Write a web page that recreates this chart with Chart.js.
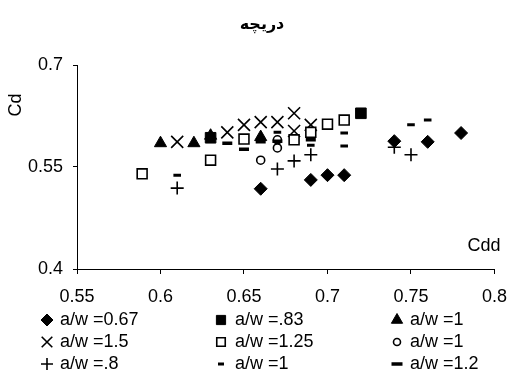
<!DOCTYPE html>
<html><head><meta charset="utf-8">
<script src="https://cdn.jsdelivr.net/npm/chart.js@4/dist/chart.umd.min.js"></script>
<style>html,body{margin:0;padding:0;background:#fff}#wrap{width:519px;height:374px;position:relative}</style>
</head><body><div id="wrap"><canvas id="c" width="519" height="374"></canvas></div>
<script>
const chartTitle = 'دریچه';
const xAxisTitle = 'Cdd';
const yAxisTitle = 'Cd';
const xTicks = [0.55, 0.6, 0.65, 0.7, 0.75, 0.8];
const yTicks = [0.4, 0.55, 0.7];
const seriesLabels = ['a/w =0.67', 'a/w =.83', 'a/w =1', 'a/w =1.5', 'a/w =1.25', 'a/w =1', 'a/w =.8', 'a/w =1', 'a/w =1.2'];

const aw067X = [0.66, 0.69, 0.70, 0.71, 0.74, 0.76, 0.78];
const aw067Y = [0.518, 0.531, 0.538, 0.538, 0.588, 0.587, 0.600];
const aw083X = [0.63, 0.72];
const aw083Y = [0.593, 0.629];
const aw1aX = [0.60, 0.62, 0.63, 0.66];
const aw1aY = [0.585, 0.585, 0.596, 0.594];
const aw15X = [0.61, 0.64, 0.65, 0.66, 0.67, 0.68, 0.68, 0.69];
const aw15Y = [0.587, 0.601, 0.612, 0.616, 0.616, 0.629, 0.603, 0.612];
const aw125X = [0.589, 0.63, 0.65, 0.68, 0.69, 0.70, 0.71];
const aw125Y = [0.54, 0.56, 0.591, 0.59, 0.601, 0.613, 0.619];
const aw1bX = [0.66, 0.67, 0.67];
const aw1bY = [0.56, 0.59, 0.578];
const aw08X = [0.61, 0.67, 0.68, 0.69, 0.74, 0.75];
const aw08Y = [0.519, 0.547, 0.559, 0.568, 0.579, 0.568];
const aw1cX = [0.61, 0.67, 0.69, 0.71, 0.71, 0.75, 0.76];
const aw1cY = [0.538, 0.601, 0.582, 0.60, 0.581, 0.612, 0.619];
const aw12X = [0.64, 0.65, 0.66, 0.67, 0.69, 0.74];
const aw12Y = [0.585, 0.576, 0.587, 0.588, 0.59, 0.588];

const FONT = '"Liberation Sans", Arial, sans-serif';
const FS = 18;

function pts(xs, ys) { return xs.map((x, i) => ({x: x, y: ys[i]})); }

const styles = [
  {pointStyle: 'rectRot', radius: 6.5, bg: '#000', bw: 1, lr: 6},
  {pointStyle: 'rect', radius: 7.5, bg: '#000', bw: 1, lr: 6.5},
  {pointStyle: 'triangle', radius: 7, bg: '#000', bw: 1, lr: 6.5},
  {pointStyle: 'crossRot', radius: 8.5, bg: '#000', bw: 1.6, lr: 7.5},
  {pointStyle: 'rect', radius: 7, bg: '#fff', bw: 1.6, lr: 6},
  {pointStyle: 'circle', radius: 4, bg: '#fff', bw: 1.6, lr: 3.5},
  {pointStyle: 'cross', radius: 6.5, bg: '#000', bw: 1.6, lr: 6},
  {pointStyle: 'line', radius: 3.8, bg: '#000', bw: 3, lr: 3},
  {pointStyle: 'line', radius: 5, bg: '#000', bw: 3.5, lr: 5.5}
];
const seriesData = [
  pts(aw067X, aw067Y), pts(aw083X, aw083Y), pts(aw1aX, aw1aY),
  pts(aw15X, aw15Y), pts(aw125X, aw125Y), pts(aw1bX, aw1bY),
  pts(aw08X, aw08Y), pts(aw1cX, aw1cY), pts(aw12X, aw12Y)
];

const datasets = seriesData.map((d, i) => ({
  label: seriesLabels[i],
  data: d,
  showLine: false,
  pointStyle: styles[i].pointStyle,
  pointRadius: styles[i].radius,
  pointHoverRadius: styles[i].radius,
  pointBackgroundColor: styles[i].bg,
  pointBorderColor: '#000',
  pointBorderWidth: styles[i].bw,
  backgroundColor: styles[i].bg,
  borderColor: '#000',
  order: seriesData.length - i
}));

function drawMarker(ctx, st, x, y) {
  ctx.save();
  ctx.fillStyle = st.bg; ctx.strokeStyle = '#000'; ctx.lineWidth = st.bw;
  if (Chart.helpers && Chart.helpers.drawPoint) {
    Chart.helpers.drawPoint(ctx, {pointStyle: st.pointStyle, radius: st.lr, borderWidth: st.bw, rotation: 0}, x, y);
  }
  ctx.restore();
}

const annotPlugin = {
  id: 'annot',
  afterDraw(chart) {
    const ctx = chart.ctx;
    ctx.save();
    ctx.fillStyle = '#000';
    ctx.textBaseline = 'middle';
    // title
    ctx.font = 'bold 16px "DejaVu Sans", sans-serif';
    ctx.textAlign = 'center';
    ctx.fillText(chartTitle, 262, 25);
    // axis titles
    ctx.font = FS + 'px ' + FONT;
    ctx.fillText(xAxisTitle, 484, 246);
    ctx.save();
    ctx.translate(16, 105);
    ctx.rotate(-Math.PI / 2);
    ctx.fillText(yAxisTitle, 0, 0);
    ctx.restore();
    // legend 3x3
    const colMarkerX = [47, 221, 397];
    const colTextX = [60, 235, 410];
    const rowY = [320, 342, 364];
    ctx.textAlign = 'left';
    chart.data.datasets.forEach((ds, i) => {
      const r = Math.floor(i / 3), c = i % 3;
      drawMarker(ctx, styles[i], colMarkerX[c], rowY[r]);
      ctx.fillStyle = '#000';
      ctx.font = FS + 'px ' + FONT;
      ctx.fillText(ds.label, colTextX[c], rowY[r]);
    });
    ctx.restore();
  }
};

new Chart(document.getElementById('c'), {
  type: 'scatter',
  data: {datasets: datasets},
  options: {
    responsive: false,
    animation: false,
    events: [],
    devicePixelRatio: 1,
    layout: {padding: {left: 0, top: 65, right: 17, bottom: 57}},
    plugins: {legend: {display: false}, title: {display: false}, tooltip: {enabled: false}},
    scales: {
      x: {
        type: 'linear', min: xTicks[0], max: xTicks[xTicks.length - 1],
        afterBuildTicks: s => { s.ticks = xTicks.map(v => ({value: v})); },
        afterFit: s => { s.height = 48; },
        grid: {drawOnChartArea: false, drawTicks: true, tickLength: 5, color: '#000', lineWidth: 1},
        border: {display: true, color: '#000', width: 1},
        ticks: {color: '#000', font: {family: FONT, size: FS}, padding: 12, maxRotation: 0, autoSkip: false, callback: v => String(v)}
      },
      y: {
        type: 'linear', min: yTicks[0], max: yTicks[yTicks.length - 1],
        afterBuildTicks: s => { s.ticks = yTicks.map(v => ({value: v})); },
        afterFit: s => { s.width = 77; },
        grid: {drawOnChartArea: false, drawTicks: true, tickLength: 4, color: '#000', lineWidth: 1},
        border: {display: true, color: '#000', width: 1},
        ticks: {color: '#000', font: {family: FONT, size: FS}, padding: 10, autoSkip: false, callback: v => String(v)}
      }
    }
  },
  plugins: [annotPlugin]
});
</script></body></html>
